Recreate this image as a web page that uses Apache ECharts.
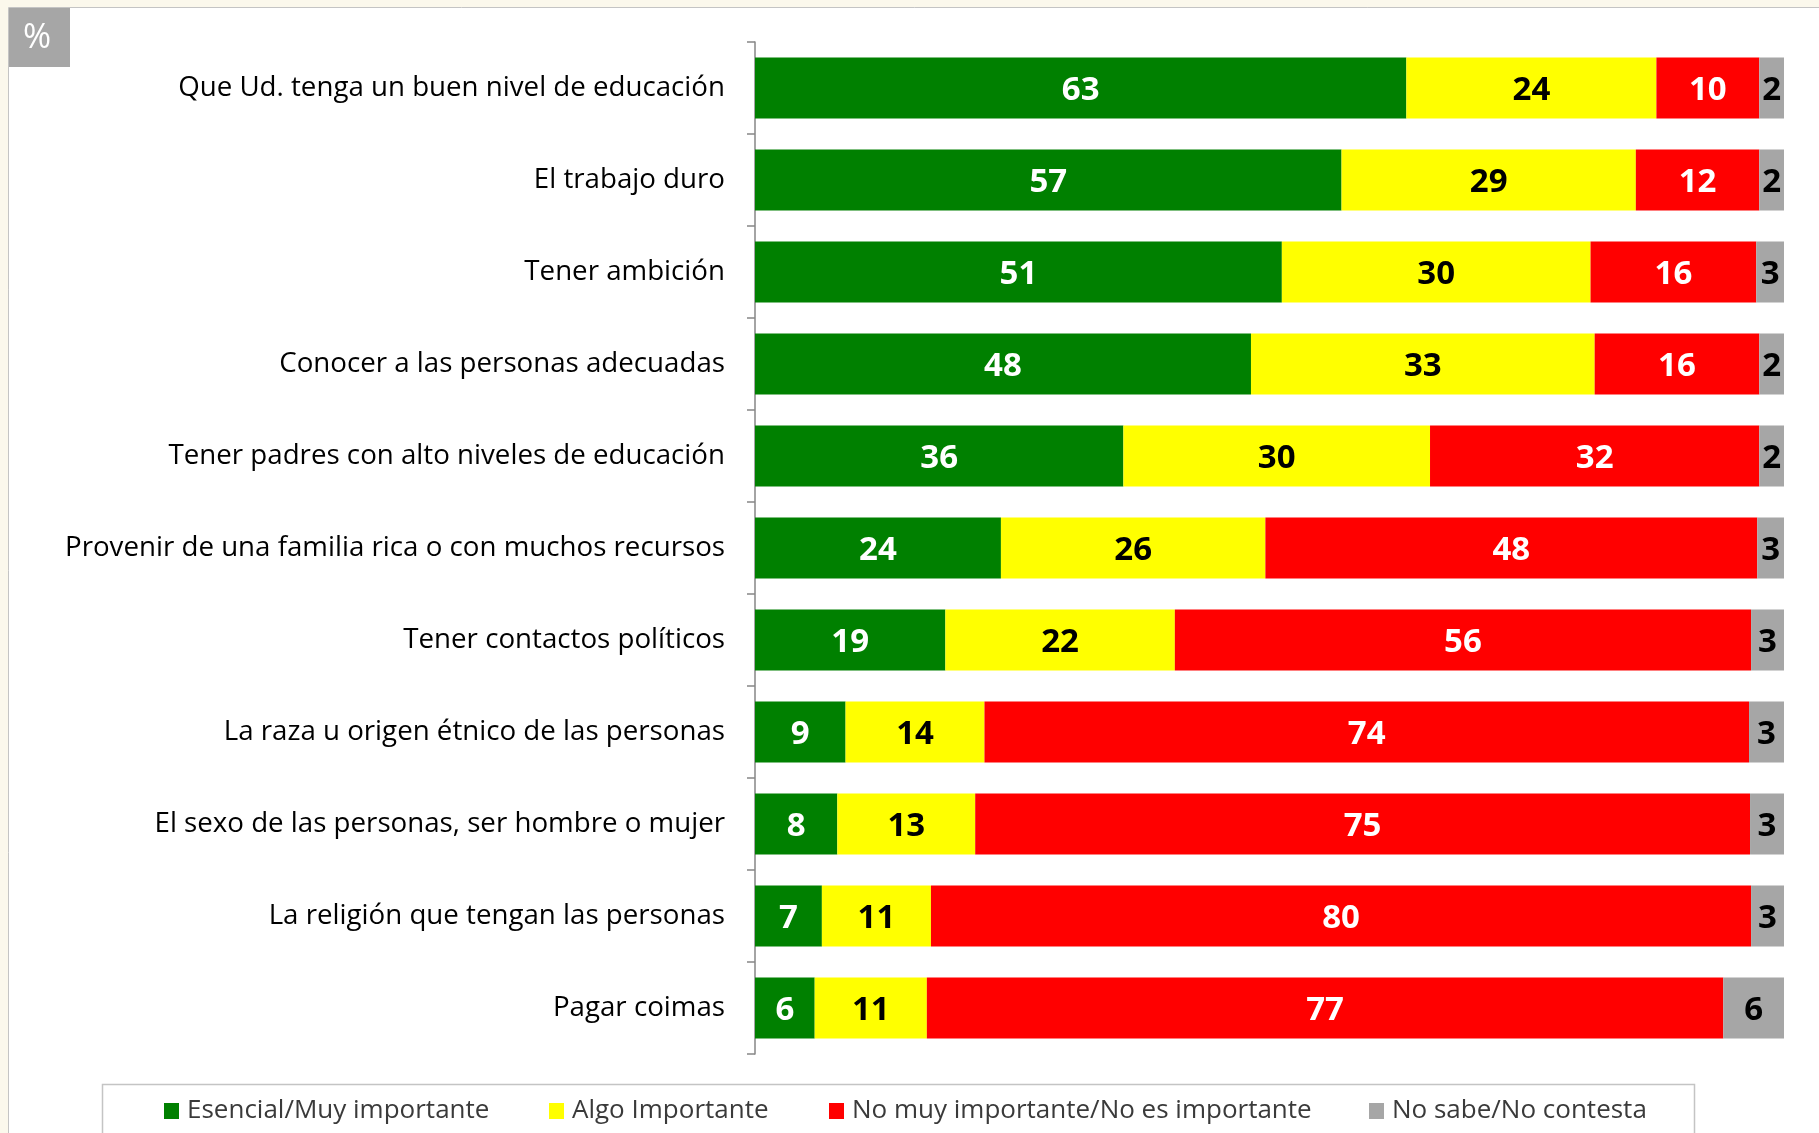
<!DOCTYPE html>
<html>
<head>
<meta charset="utf-8">
<title>Importancia para salir adelante</title>
<script src="https://cdn.jsdelivr.net/npm/echarts@6/dist/echarts.min.js"></script>
<style>
  html, body { margin: 0; padding: 0; background: #fbf8ec; }
  #chart { width: 1819px; height: 1133px; }
</style>
</head>
<body>
<div id="chart"></div>
<script>
const categories = [
  "Que Ud. tenga un buen nivel de educación",
  "El trabajo duro",
  "Tener ambición",
  "Conocer a las personas adecuadas",
  "Tener padres con alto niveles de educación",
  "Provenir de una familia rica o con muchos recursos",
  "Tener contactos políticos",
  "La raza u origen étnico de las personas",
  "El sexo de las personas, ser hombre o mujer",
  "La religión que tengan las personas",
  "Pagar coimas"
];
// labels show the rounded value
const esencial = [63.3, 57.0, 51.2, 48.2, 35.8, 23.9, 18.5, 8.8, 8.0, 6.5, 5.8];
const algo = [24.3, 28.6, 30.0, 33.4, 29.8, 25.7, 22.3, 13.5, 13.4, 10.6, 10.9];
const noImportante = [10.0, 12.0, 16.1, 16.0, 32.0, 47.8, 56.0, 74.3, 75.3, 79.7, 77.4];
const noSabe = [2.4, 2.4, 2.7, 2.4, 2.4, 2.6, 3.2, 3.4, 3.3, 3.2, 5.9];

const seriesNames = [
  "Esencial/Muy importante",
  "Algo Importante",
  "No muy importante/No es importante",
  "No sabe/No contesta"
];
const seriesData = [esencial, algo, noImportante, noSabe];
const colors = ["#008000", "#ffff00", "#ff0000", "#a6a6a6"];
const labelColors = ["#ffffff", "#000000", "#ffffff", "#000000"];
const legendLeft = [164, 549, 829, 1369];

const chart = echarts.init(document.getElementById("chart"));

// one legend per item so each sits where the original puts it
const legends = seriesNames.map((name, i) => ({
  data: [name],
  left: legendLeft[i],
  top: 1098,
  padding: 0,
  icon: "rect",
  itemWidth: 15,
  itemHeight: 16,
  itemGap: 0,
  selectedMode: false,
  textStyle: {
    fontFamily: "Open Sans",
    fontSize: 26,
    color: "#3a3a3a",
    padding: [0, 0, 0, 3]
  }
}));

const series = seriesNames.map((name, i) => ({
  name,
  type: "bar",
  stack: "total",
  barWidth: 61,
  data: seriesData[i],
  itemStyle: { color: colors[i] },
  label: {
    show: true,
    position: "inside",
    offset: [0, 3],
    color: labelColors[i],
    fontFamily: "Open Sans",
    fontWeight: "bold",
    fontSize: 33,
    formatter: (p) => Math.round(p.value)
  },
  emphasis: { disabled: true }
}));

chart.setOption({
  backgroundColor: "#fbf8ec",
  animation: false,
  graphic: [
    {
      type: "rect",
      z: -10,
      shape: { x: 8.5, y: 7.5, width: 1830, height: 1140 },
      style: { fill: "#ffffff", stroke: "#c4c4c4", lineWidth: 1 }
    },
    {
      type: "rect",
      z: -9,
      shape: { x: 9, y: 8, width: 61, height: 59 },
      style: { fill: "#a6a6a6" }
    },
    {
      type: "text",
      z: -8,
      x: 37,
      y: 38,
      style: {
        text: "%",
        fill: "#ffffff",
        font: "34px 'Open Sans'",
        align: "center",
        verticalAlign: "middle"
      }
    },
    {
      type: "rect",
      z: -9,
      shape: { x: 102.5, y: 1084.5, width: 1592, height: 80 },
      style: { fill: "#ffffff", stroke: "#c4c4c4", lineWidth: 1.5 }
    }
  ],
  legend: legends,
  grid: { left: 755, top: 42, width: 1029, height: 1012 },
  xAxis: {
    type: "value",
    min: 0,
    max: 100,
    show: false
  },
  yAxis: {
    type: "category",
    data: categories,
    inverse: true,
    axisLine: { show: true, lineStyle: { color: "#868686", width: 1.5 } },
    axisTick: { show: true, length: 8, lineStyle: { color: "#868686", width: 1.5 } },
    axisLabel: {
      margin: 30,
      fontFamily: "Open Sans",
      fontSize: 27.7,
      lineHeight: 34,
      padding: [2, 0, 0, 0],
      color: "#000000"
    }
  },
  series
});
</script>
</body>
</html>
